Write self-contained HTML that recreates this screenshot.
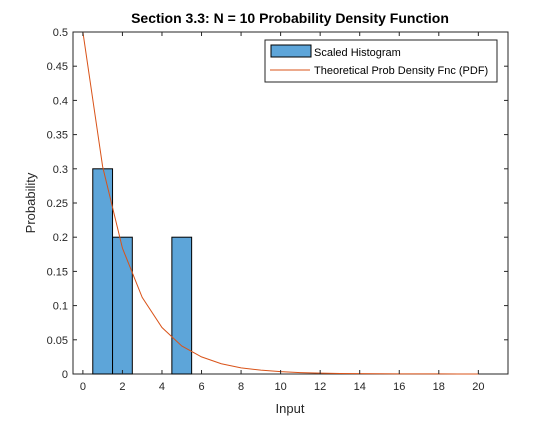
<!DOCTYPE html>
<html><head><meta charset="utf-8"><style>
body{margin:0;background:#fff;}
svg text{font-family:"Liberation Sans",sans-serif;}
</style></head><body>
<svg width="560" height="420" xmlns="http://www.w3.org/2000/svg">
<rect width="560" height="420" fill="#fff"/>
<g id="plot"></g>
</svg>
<script>
const binCenters=[1,2,5];
const binValues=[0.3,0.2,0.2];
const pdfX=[0,1,2,3,4,5,6,7,8,9,10,11,12,13,14,15,16,17,18,19,20];
const pdfY=[0.5,0.303,0.184,0.112,0.068,0.041,0.025,0.015,0.009,0.0056,0.0034,0.002,0.0012,0.0008,0.0005,0.0003,0.0002,0.0001,0.0001,0,0];
const xTicks=[0,2,4,6,8,10,12,14,16,18,20];
const yTicks=[0,0.05,0.1,0.15,0.2,0.25,0.3,0.35,0.4,0.45,0.5];
const yTickLabels=["0","0.05","0.1","0.15","0.2","0.25","0.3","0.35","0.4","0.45","0.5"];
const L=73,R=508,T=32,B=374,xmin=-0.5,xmax=21.5,ymin=0,ymax=0.5;
const sx=v=>L+(v-xmin)/(xmax-xmin)*(R-L);
const sy=v=>B-(v-ymin)/(ymax-ymin)*(B-T);
const NS="http://www.w3.org/2000/svg";
const g=document.getElementById('plot');
function mk(t,a,txt){const e=document.createElementNS(NS,t);for(const k in a)e.setAttribute(k,a[k]);if(txt!==undefined)e.textContent=txt;g.appendChild(e);return e;}
let ax=mk('rect',{x:L,y:T,width:R-L,height:B-T,fill:'#fff',stroke:'#262626','stroke-width':1});


binCenters.forEach((c,i)=>{
 const r=mk('rect',{x:sx(c-0.5),y:sy(binValues[i]),width:sx(c+0.5)-sx(c-0.5),height:sy(0)-sy(binValues[i]),fill:'#5da5d9',stroke:'#000','stroke-width':1});
 
 
});
const pts=pdfX.map((x,i)=>sx(x)+','+sy(pdfY[i])).join(' ');
const pl=mk('polyline',{points:pts,fill:'none',stroke:'#d95319','stroke-width':1});


xTicks.forEach(v=>{
 mk('line',{x1:sx(v),x2:sx(v),y1:B,y2:B-4,stroke:'#262626'});
 mk('line',{x1:sx(v),x2:sx(v),y1:T,y2:T+4,stroke:'#262626'});
 const t=mk('text',{x:sx(v),y:B+16,'text-anchor':'middle','font-size':11,fill:'#262626'},String(v));
 
 
});
yTicks.forEach((v,i)=>{
 mk('line',{x1:L,x2:L+4,y1:sy(v),y2:sy(v),stroke:'#262626'});
 mk('line',{x1:R,x2:R-4,y1:sy(v),y2:sy(v),stroke:'#262626'});
 const t=mk('text',{x:L-5,y:sy(v)+4,'text-anchor':'end','font-size':11,fill:'#262626'},yTickLabels[i]);
 
 
});
let tt=mk('text',{x:290,y:23,'text-anchor':'middle','font-size':14,'font-weight':'bold',fill:'#000'},'Section 3.3: N = 10 Probability Density Function');


let xl=mk('text',{x:290,y:413,'text-anchor':'middle','font-size':13,fill:'#262626'},'Input');


let yl=mk('text',{x:0,y:0,'text-anchor':'middle','font-size':13,fill:'#262626',transform:'translate(35,203) rotate(-90)'},'Probability');


let lg=mk('rect',{x:265,y:40,width:232,height:42,fill:'#fff',stroke:'#262626'});


let l1=mk('rect',{x:271,y:45,width:40,height:12,fill:'#5da5d9',stroke:'#000'});


let t1=mk('text',{x:314,y:56,'font-size':11,fill:'#000'},'Scaled Histogram');


let l2=mk('line',{x1:270,x2:310,y1:70,y2:70,stroke:'#d95319'});


let t2=mk('text',{x:314,y:74,'font-size':11,fill:'#000'},'Theoretical Prob Density Fnc (PDF)');


</script>
</body></html>
